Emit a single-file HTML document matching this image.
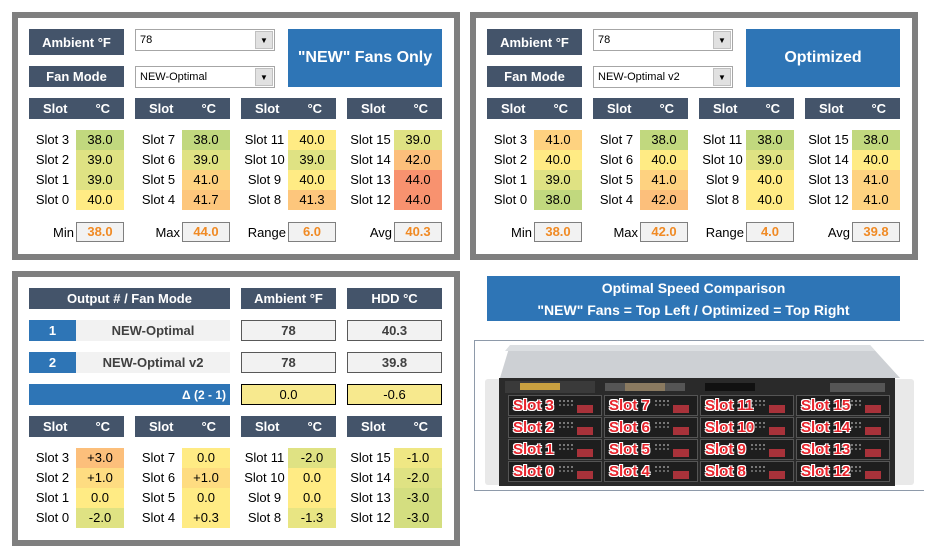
<!DOCTYPE html>
<html><head><meta charset="utf-8">
<style>
*{margin:0;padding:0;box-sizing:border-box}
body{width:929px;height:558px;background:#fff;position:relative;overflow:hidden;font-family:"Liberation Sans",sans-serif;font-size:13px;color:#000}
.a{position:absolute}
.pn{position:absolute;border:6px solid #7f7f7f;background:#fff}
.hd{position:absolute;background:#44546a;color:#fff;font-weight:bold;font-size:13px;display:flex;align-items:center;justify-content:center}
.dd{position:absolute;background:#fff;border:1px solid #a6a6a6;font-size:11px;line-height:20px;padding-left:4px}
.dd i{position:absolute;right:1px;top:1px;width:18px;bottom:1px;background:#e1e1e1;border:1px solid #c0c0c0;font-style:normal;font-size:8px;text-align:center;line-height:17px}
.bl{position:absolute;background:#2e75b6;color:#fff;font-weight:bold;display:flex;align-items:center;justify-content:center;text-align:center}
.lb{position:absolute;width:47px;height:20px;line-height:20px;text-align:center;font-size:13px}
.v{position:absolute;width:48px;height:20px;line-height:20px;text-align:center;font-size:13px}
.st{position:absolute;height:20px;line-height:20px;text-align:right;font-size:13px}
.sb{position:absolute;width:48px;height:20px;line-height:18px;text-align:center;background:#f2f2f2;border:1px solid #7f7f7f;color:#f08a24;font-weight:bold;font-size:13px}
.gb{position:absolute;background:#f2f2f2;border:1px solid #595959;font-weight:bold;color:#404040;display:flex;align-items:center;justify-content:center}
.g{background:#c1d87e}.gy{background:#dfe283}.y{background:#ffeb84}.yo{background:#fedc81}.o1{background:#fed280}.o2{background:#fdc67c}.o3{background:#fcbf7b}.r{background:#f8926f}.ly{background:#efe784}.dg{background:#d4de80}.mg{background:#e8e583}
.dr{position:absolute;width:94px;height:21px;background:#1e1e1e;border:1px solid #555}
.dr b{position:absolute;left:4px;top:0;color:#e8242c;font-size:15px;font-weight:bold;line-height:20px;text-shadow:1px 1px 0 #fff,-1px -1px 0 #fff,1px -1px 0 #fff,-1px 1px 0 #fff}
.dr s{position:absolute;right:8px;bottom:2px;width:16px;height:8px;background:#a8323a;text-decoration:none}
.dr u{position:absolute;left:50px;right:28px;top:4px;height:6px;border-top:2px dotted #777;border-bottom:2px dotted #666;text-decoration:none}
</style></head><body>

<!-- Panel 1 -->
<div class="pn" style="left:12px;top:12px;width:448px;height:248px"></div>
<div class="hd" style="left:29px;top:29px;width:95px;height:26px">Ambient °F</div>
<div class="dd" style="left:135px;top:29px;width:140px;height:22px">78<i>▼</i></div>
<div class="hd" style="left:29px;top:66px;width:95px;height:21px">Fan Mode</div>
<div class="dd" style="left:135px;top:66px;width:140px;height:22px">NEW-Optimal<i>▼</i></div>
<div class="bl" style="left:288px;top:29px;width:154px;height:58px;font-size:16px">"NEW" Fans Only</div>
<div class="hd" style="left:29px;top:98px;width:95px;height:21px;justify-content:space-around">Slot<span>°C</span></div>
<div class="hd" style="left:135px;top:98px;width:95px;height:21px;justify-content:space-around">Slot<span>°C</span></div>
<div class="hd" style="left:241px;top:98px;width:95px;height:21px;justify-content:space-around">Slot<span>°C</span></div>
<div class="hd" style="left:347px;top:98px;width:95px;height:21px;justify-content:space-around">Slot<span>°C</span></div>
<div class="lb" style="left:29px;top:130px">Slot 3</div><div class="v g" style="left:76px;top:130px">38.0</div>
<div class="lb" style="left:29px;top:150px">Slot 2</div><div class="v gy" style="left:76px;top:150px">39.0</div>
<div class="lb" style="left:29px;top:170px">Slot 1</div><div class="v gy" style="left:76px;top:170px">39.0</div>
<div class="lb" style="left:29px;top:190px">Slot 0</div><div class="v y" style="left:76px;top:190px">40.0</div>
<div class="lb" style="left:135px;top:130px">Slot 7</div><div class="v g" style="left:182px;top:130px">38.0</div>
<div class="lb" style="left:135px;top:150px">Slot 6</div><div class="v gy" style="left:182px;top:150px">39.0</div>
<div class="lb" style="left:135px;top:170px">Slot 5</div><div class="v o1" style="left:182px;top:170px">41.0</div>
<div class="lb" style="left:135px;top:190px">Slot 4</div><div class="v o2" style="left:182px;top:190px">41.7</div>
<div class="lb" style="left:241px;top:130px">Slot 11</div><div class="v y" style="left:288px;top:130px">40.0</div>
<div class="lb" style="left:241px;top:150px">Slot 10</div><div class="v gy" style="left:288px;top:150px">39.0</div>
<div class="lb" style="left:241px;top:170px">Slot 9</div><div class="v y" style="left:288px;top:170px">40.0</div>
<div class="lb" style="left:241px;top:190px">Slot 8</div><div class="v o2" style="left:288px;top:190px">41.3</div>
<div class="lb" style="left:347px;top:130px">Slot 15</div><div class="v gy" style="left:394px;top:130px">39.0</div>
<div class="lb" style="left:347px;top:150px">Slot 14</div><div class="v o3" style="left:394px;top:150px">42.0</div>
<div class="lb" style="left:347px;top:170px">Slot 13</div><div class="v r" style="left:394px;top:170px">44.0</div>
<div class="lb" style="left:347px;top:190px">Slot 12</div><div class="v r" style="left:394px;top:190px">44.0</div>
<div class="st" style="left:29px;top:223px;width:45px">Min</div><div class="sb" style="left:76px;top:222px">38.0</div>
<div class="st" style="left:135px;top:223px;width:45px">Max</div><div class="sb" style="left:182px;top:222px">44.0</div>
<div class="st" style="left:231px;top:223px;width:55px">Range</div><div class="sb" style="left:288px;top:222px">6.0</div>
<div class="st" style="left:347px;top:223px;width:45px">Avg</div><div class="sb" style="left:394px;top:222px">40.3</div>

<!-- Panel 2 -->
<div class="pn" style="left:470px;top:12px;width:448px;height:248px"></div>
<div class="hd" style="left:487px;top:29px;width:95px;height:26px">Ambient °F</div>
<div class="dd" style="left:593px;top:29px;width:140px;height:22px">78<i>▼</i></div>
<div class="hd" style="left:487px;top:66px;width:95px;height:21px">Fan Mode</div>
<div class="dd" style="left:593px;top:66px;width:140px;height:22px">NEW-Optimal v2<i>▼</i></div>
<div class="bl" style="left:746px;top:29px;width:154px;height:58px;font-size:16px">Optimized</div>
<div class="hd" style="left:487px;top:98px;width:95px;height:21px;justify-content:space-around">Slot<span>°C</span></div>
<div class="hd" style="left:593px;top:98px;width:95px;height:21px;justify-content:space-around">Slot<span>°C</span></div>
<div class="hd" style="left:699px;top:98px;width:95px;height:21px;justify-content:space-around">Slot<span>°C</span></div>
<div class="hd" style="left:805px;top:98px;width:95px;height:21px;justify-content:space-around">Slot<span>°C</span></div>
<div class="lb" style="left:487px;top:130px">Slot 3</div><div class="v o1" style="left:534px;top:130px">41.0</div>
<div class="lb" style="left:487px;top:150px">Slot 2</div><div class="v y" style="left:534px;top:150px">40.0</div>
<div class="lb" style="left:487px;top:170px">Slot 1</div><div class="v gy" style="left:534px;top:170px">39.0</div>
<div class="lb" style="left:487px;top:190px">Slot 0</div><div class="v g" style="left:534px;top:190px">38.0</div>
<div class="lb" style="left:593px;top:130px">Slot 7</div><div class="v g" style="left:640px;top:130px">38.0</div>
<div class="lb" style="left:593px;top:150px">Slot 6</div><div class="v y" style="left:640px;top:150px">40.0</div>
<div class="lb" style="left:593px;top:170px">Slot 5</div><div class="v o1" style="left:640px;top:170px">41.0</div>
<div class="lb" style="left:593px;top:190px">Slot 4</div><div class="v o3" style="left:640px;top:190px">42.0</div>
<div class="lb" style="left:699px;top:130px">Slot 11</div><div class="v g" style="left:746px;top:130px">38.0</div>
<div class="lb" style="left:699px;top:150px">Slot 10</div><div class="v gy" style="left:746px;top:150px">39.0</div>
<div class="lb" style="left:699px;top:170px">Slot 9</div><div class="v y" style="left:746px;top:170px">40.0</div>
<div class="lb" style="left:699px;top:190px">Slot 8</div><div class="v y" style="left:746px;top:190px">40.0</div>
<div class="lb" style="left:805px;top:130px">Slot 15</div><div class="v g" style="left:852px;top:130px">38.0</div>
<div class="lb" style="left:805px;top:150px">Slot 14</div><div class="v y" style="left:852px;top:150px">40.0</div>
<div class="lb" style="left:805px;top:170px">Slot 13</div><div class="v o1" style="left:852px;top:170px">41.0</div>
<div class="lb" style="left:805px;top:190px">Slot 12</div><div class="v o1" style="left:852px;top:190px">41.0</div>
<div class="st" style="left:487px;top:223px;width:45px">Min</div><div class="sb" style="left:534px;top:222px">38.0</div>
<div class="st" style="left:593px;top:223px;width:45px">Max</div><div class="sb" style="left:640px;top:222px">42.0</div>
<div class="st" style="left:689px;top:223px;width:55px">Range</div><div class="sb" style="left:746px;top:222px">4.0</div>
<div class="st" style="left:805px;top:223px;width:45px">Avg</div><div class="sb" style="left:852px;top:222px">39.8</div>

<!-- Panel 3 -->
<div class="pn" style="left:12px;top:271px;width:448px;height:275px"></div>
<div class="hd" style="left:29px;top:288px;width:201px;height:21px">Output # / Fan Mode</div>
<div class="hd" style="left:241px;top:288px;width:95px;height:21px">Ambient °F</div>
<div class="hd" style="left:347px;top:288px;width:95px;height:21px">HDD °C</div>
<div class="bl" style="left:29px;top:320px;width:47px;height:21px;font-size:13px">1</div>
<div class="a" style="left:76px;top:320px;width:154px;height:21px;background:#f2f2f2;font-weight:bold;color:#404040;text-align:center;line-height:21px">NEW-Optimal</div>
<div class="gb" style="left:241px;top:320px;width:95px;height:21px">78</div>
<div class="gb" style="left:347px;top:320px;width:95px;height:21px">40.3</div>
<div class="bl" style="left:29px;top:352px;width:47px;height:21px;font-size:13px">2</div>
<div class="a" style="left:76px;top:352px;width:154px;height:21px;background:#f2f2f2;font-weight:bold;color:#404040;text-align:center;line-height:21px">NEW-Optimal v2</div>
<div class="gb" style="left:241px;top:352px;width:95px;height:21px">78</div>
<div class="gb" style="left:347px;top:352px;width:95px;height:21px">39.8</div>
<div class="bl" style="left:29px;top:384px;width:201px;height:21px;font-size:12px;justify-content:flex-end;padding-right:4px">Δ (2 - 1)</div>
<div class="a" style="left:241px;top:384px;width:95px;height:21px;background:#f7e98e;border:1px solid #000;text-align:center;line-height:19px">0.0</div>
<div class="a" style="left:347px;top:384px;width:95px;height:21px;background:#f7e98e;border:1px solid #000;text-align:center;line-height:19px">-0.6</div>
<div class="hd" style="left:29px;top:416px;width:95px;height:21px;justify-content:space-around">Slot<span>°C</span></div>
<div class="hd" style="left:135px;top:416px;width:95px;height:21px;justify-content:space-around">Slot<span>°C</span></div>
<div class="hd" style="left:241px;top:416px;width:95px;height:21px;justify-content:space-around">Slot<span>°C</span></div>
<div class="hd" style="left:347px;top:416px;width:95px;height:21px;justify-content:space-around">Slot<span>°C</span></div>
<div class="lb" style="left:29px;top:448px">Slot 3</div><div class="v o3" style="left:76px;top:448px">+3.0</div>
<div class="lb" style="left:29px;top:468px">Slot 2</div><div class="v yo" style="left:76px;top:468px">+1.0</div>
<div class="lb" style="left:29px;top:488px">Slot 1</div><div class="v y" style="left:76px;top:488px">0.0</div>
<div class="lb" style="left:29px;top:508px">Slot 0</div><div class="v gy" style="left:76px;top:508px">-2.0</div>
<div class="lb" style="left:135px;top:448px">Slot 7</div><div class="v y" style="left:182px;top:448px">0.0</div>
<div class="lb" style="left:135px;top:468px">Slot 6</div><div class="v yo" style="left:182px;top:468px">+1.0</div>
<div class="lb" style="left:135px;top:488px">Slot 5</div><div class="v y" style="left:182px;top:488px">0.0</div>
<div class="lb" style="left:135px;top:508px">Slot 4</div><div class="v y" style="left:182px;top:508px">+0.3</div>
<div class="lb" style="left:241px;top:448px">Slot 11</div><div class="v gy" style="left:288px;top:448px">-2.0</div>
<div class="lb" style="left:241px;top:468px">Slot 10</div><div class="v y" style="left:288px;top:468px">0.0</div>
<div class="lb" style="left:241px;top:488px">Slot 9</div><div class="v y" style="left:288px;top:488px">0.0</div>
<div class="lb" style="left:241px;top:508px">Slot 8</div><div class="v mg" style="left:288px;top:508px">-1.3</div>
<div class="lb" style="left:347px;top:448px">Slot 15</div><div class="v ly" style="left:394px;top:448px">-1.0</div>
<div class="lb" style="left:347px;top:468px">Slot 14</div><div class="v gy" style="left:394px;top:468px">-2.0</div>
<div class="lb" style="left:347px;top:488px">Slot 13</div><div class="v dg" style="left:394px;top:488px">-3.0</div>
<div class="lb" style="left:347px;top:508px">Slot 12</div><div class="v dg" style="left:394px;top:508px">-3.0</div>

<!-- Right bottom -->
<div class="bl" style="left:487px;top:276px;width:413px;height:45px;font-size:14px;line-height:22px;flex-direction:column">Optimal Speed Comparison<br>"NEW" Fans = Top Left / Optimized = Top Right</div>
<div class="a" style="left:474px;top:340px;width:450px;height:151px;border:1px solid #8e9aaa;border-right:none;background:#fff"></div>
<svg class="a" style="left:475px;top:341px" width="454" height="149">
<polygon points="35,4 395,4 425,37 25,37" fill="#cdd0d4"/>
<polygon points="35,4 395,4 400,10 30,10" fill="#dcdfe2"/>
<rect x="10" y="38" width="24" height="106" rx="3" fill="#e9e9e9"/>
<rect x="417" y="38" width="22" height="106" rx="3" fill="#e9e9e9"/>
<rect x="24" y="37" width="396" height="108" fill="#2a2a2a"/>
<rect x="30" y="40" width="90" height="12" fill="#3a3a3a"/>
<rect x="45" y="42" width="40" height="7" fill="#c8a040"/>
<rect x="130" y="42" width="80" height="8" fill="#555"/>
<rect x="150" y="42" width="40" height="8" fill="#8a7a60"/>
<rect x="230" y="42" width="50" height="8" fill="#111"/>
<rect x="355" y="42" width="55" height="9" fill="#555"/>
</svg>
<div class="dr" style="left:508px;top:395px"><u></u><s></s><b>Slot 3</b></div>
<div class="dr" style="left:508px;top:417px"><u></u><s></s><b>Slot 2</b></div>
<div class="dr" style="left:508px;top:439px"><u></u><s></s><b>Slot 1</b></div>
<div class="dr" style="left:508px;top:461px"><u></u><s></s><b>Slot 0</b></div>
<div class="dr" style="left:604px;top:395px"><u></u><s></s><b>Slot 7</b></div>
<div class="dr" style="left:604px;top:417px"><u></u><s></s><b>Slot 6</b></div>
<div class="dr" style="left:604px;top:439px"><u></u><s></s><b>Slot 5</b></div>
<div class="dr" style="left:604px;top:461px"><u></u><s></s><b>Slot 4</b></div>
<div class="dr" style="left:700px;top:395px"><u></u><s></s><b>Slot 11</b></div>
<div class="dr" style="left:700px;top:417px"><u></u><s></s><b>Slot 10</b></div>
<div class="dr" style="left:700px;top:439px"><u></u><s></s><b>Slot 9</b></div>
<div class="dr" style="left:700px;top:461px"><u></u><s></s><b>Slot 8</b></div>
<div class="dr" style="left:796px;top:395px"><u></u><s></s><b>Slot 15</b></div>
<div class="dr" style="left:796px;top:417px"><u></u><s></s><b>Slot 14</b></div>
<div class="dr" style="left:796px;top:439px"><u></u><s></s><b>Slot 13</b></div>
<div class="dr" style="left:796px;top:461px"><u></u><s></s><b>Slot 12</b></div>
</body></html>
